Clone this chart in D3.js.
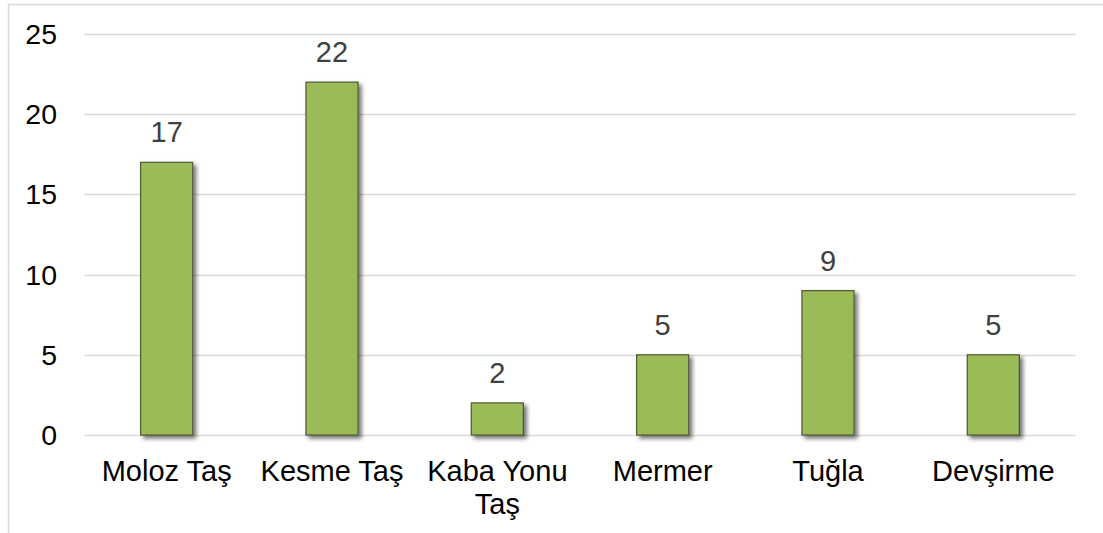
<!DOCTYPE html>
<html>
<head>
<meta charset="utf-8">
<script src="https://cdn.jsdelivr.net/npm/d3@7/dist/d3.min.js"></script>
<style>
  html, body { margin: 0; padding: 0; background: #fff; }
  svg { display: block; }
  text { font-family: "Liberation Sans", Arial, sans-serif; }
</style>
</head>
<body>
<svg id="chart" width="1103" height="533"></svg>
<script>
// Building material counts
const categories = ["Moloz Taş", "Kesme Taş", "Kaba Yonu Taş", "Mermer", "Tuğla", "Devşirme"];
const counts = [17, 22, 2, 5, 9, 5];
const yTicks = [0, 5, 10, 15, 20, 25];

const W = 1103, H = 533;
const margin = { left: 84, right: 27, top: 34, bottom: 98 };
const FS = 29, FS_Y = 28.5;
const svg = d3.select("#chart");

// shadow filter for bars
const defs = svg.append("defs");
const f = defs.append("filter").attr("id", "shadow")
  .attr("x", "-20%").attr("y", "-20%").attr("width", "160%").attr("height", "160%");
f.append("feDropShadow").attr("dx", 3).attr("dy", 3).attr("stdDeviation", 2.2)
  .attr("flood-color", "#000").attr("flood-opacity", 0.55);

// chart frame (top and left edges)
svg.append("path")
  .attr("d", `M8.5,${H} V4.5 H${W}`)
  .attr("fill", "none").attr("stroke", "#d9d9d9").attr("stroke-width", 1.5);

const x = d3.scaleBand().domain(categories)
  .range([margin.left, W - margin.right]).paddingInner(0.685).paddingOuter(0.3425);
const y = d3.scaleLinear().domain([0, 25]).range([H - margin.bottom, margin.top]);

// gridlines
svg.append("g").selectAll("line").data(yTicks).join("line")
  .attr("x1", margin.left).attr("x2", W - margin.right)
  .attr("y1", d => Math.round(y(d)) + 0.5).attr("y2", d => Math.round(y(d)) + 0.5)
  .attr("stroke", "#d9d9d9").attr("stroke-width", 1.5);

// y axis labels
const yAxis = d3.axisLeft(y).tickValues(yTicks).tickSize(0).tickPadding(0);
const ya = svg.append("g").attr("transform", "translate(57,0)").call(yAxis)
  .attr("font-size", FS_Y).attr("font-family", "Liberation Sans, Arial, sans-serif");
ya.select(".domain").remove();
ya.selectAll("text").attr("fill", "#000").attr("dy", "0.33em");

// bars
svg.append("g").selectAll("rect").data(counts).join("rect")
  .attr("x", (d, i) => x(categories[i]))
  .attr("y", d => y(d))
  .attr("width", x.bandwidth())
  .attr("height", d => y(0) - y(d))
  .attr("fill", "#9bbb59")
  .attr("stroke", "#4d5a33").attr("stroke-width", 1.2)
  .attr("filter", "url(#shadow)");

// value labels
svg.append("g").attr("font-size", FS).selectAll("text").data(counts).join("text")
  .attr("x", (d, i) => x(categories[i]) + x.bandwidth() / 2)
  .attr("y", d => y(d) - 20)
  .attr("text-anchor", "middle")
  .attr("fill", "#404040")
  .text(d => d);

// category labels (wrapped where needed)
const xAxis = d3.axisBottom(x).tickSize(0).tickPadding(0);
const xa = svg.append("g").attr("transform", `translate(0,${y(0)})`).call(xAxis)
  .attr("font-size", FS).attr("font-family", "Liberation Sans, Arial, sans-serif");
xa.select(".domain").remove();
xa.selectAll("text").each(function (d) {
  const t = d3.select(this);
  t.text(null).attr("fill", "#000").attr("dy", null).attr("y", 0);
  const lines = d === "Kaba Yonu Taş" ? ["Kaba Yonu", "Taş"] : [d];
  lines.forEach((ln, k) => {
    t.append("tspan").attr("x", 0).attr("y", 46 + k * 33).text(ln);
  });
});
</script>
</body>
</html>
